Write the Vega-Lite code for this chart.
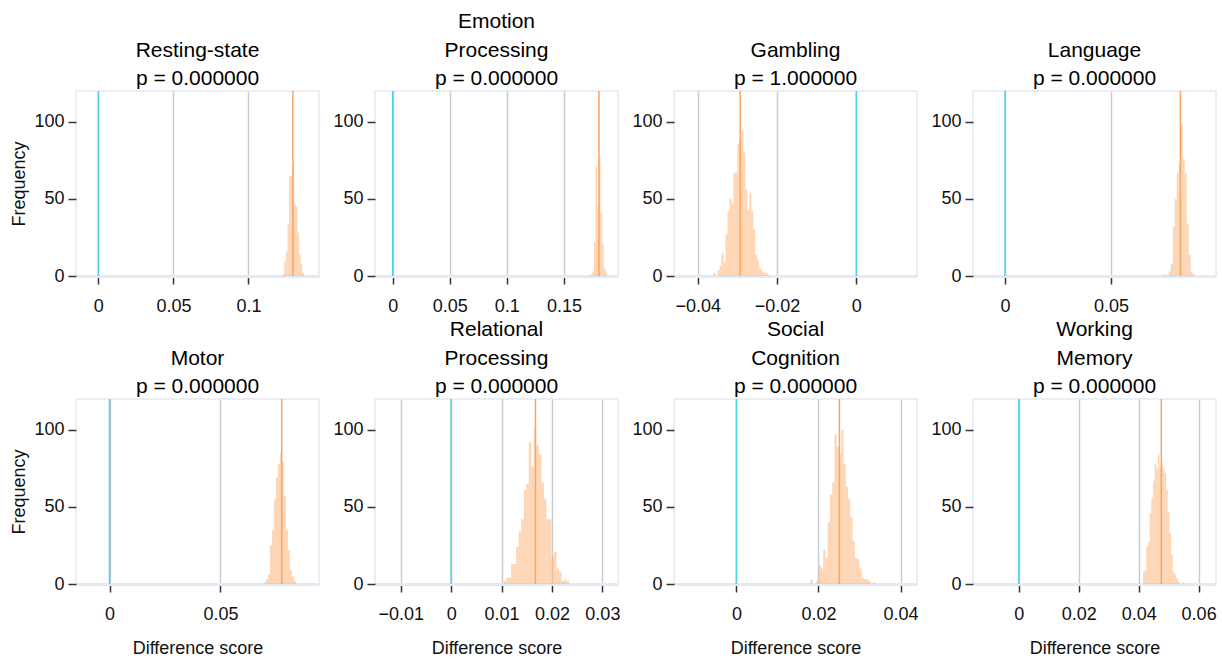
{
"$schema": "https://vega.github.io/schema/vega-lite/v6.json",
"padding": {"left": 10, "top": 10, "right": 5, "bottom": 3},
"background": "white",
"datasets": {
"hist": [
{"task":"Resting-state","x0":0.1227,"x1":0.1238,"n":1},
{"task":"Resting-state","x0":0.1238,"x1":0.1249,"n":9},
{"task":"Resting-state","x0":0.1249,"x1":0.1260,"n":16},
{"task":"Resting-state","x0":0.1260,"x1":0.1271,"n":34},
{"task":"Resting-state","x0":0.1271,"x1":0.1282,"n":65},
{"task":"Resting-state","x0":0.1282,"x1":0.1293,"n":65},
{"task":"Resting-state","x0":0.1293,"x1":0.1304,"n":73},
{"task":"Resting-state","x0":0.1304,"x1":0.1315,"n":47},
{"task":"Resting-state","x0":0.1315,"x1":0.1326,"n":45},
{"task":"Resting-state","x0":0.1326,"x1":0.1337,"n":28},
{"task":"Resting-state","x0":0.1337,"x1":0.1348,"n":14},
{"task":"Resting-state","x0":0.1348,"x1":0.1359,"n":8},
{"task":"Resting-state","x0":0.1359,"x1":0.1370,"n":2},
{"task":"Emotion","x0":0.17330,"x1":0.17476,"n":1},
{"task":"Emotion","x0":0.17476,"x1":0.17622,"n":3},
{"task":"Emotion","x0":0.17622,"x1":0.17768,"n":22},
{"task":"Emotion","x0":0.17768,"x1":0.17914,"n":71},
{"task":"Emotion","x0":0.17914,"x1":0.18060,"n":45},
{"task":"Emotion","x0":0.18060,"x1":0.18206,"n":78},
{"task":"Emotion","x0":0.18206,"x1":0.18352,"n":41},
{"task":"Emotion","x0":0.18352,"x1":0.18498,"n":21},
{"task":"Emotion","x0":0.18498,"x1":0.18644,"n":5},
{"task":"Emotion","x0":0.18644,"x1":0.18790,"n":2},
{"task":"Gambling","x0":-0.0360,"x1":-0.0355,"n":2},
{"task":"Gambling","x0":-0.0350,"x1":-0.0345,"n":4},
{"task":"Gambling","x0":-0.0345,"x1":-0.0340,"n":7},
{"task":"Gambling","x0":-0.0340,"x1":-0.0335,"n":15},
{"task":"Gambling","x0":-0.0335,"x1":-0.0330,"n":9},
{"task":"Gambling","x0":-0.0330,"x1":-0.0325,"n":27},
{"task":"Gambling","x0":-0.0325,"x1":-0.0320,"n":42},
{"task":"Gambling","x0":-0.0320,"x1":-0.0315,"n":50},
{"task":"Gambling","x0":-0.0315,"x1":-0.0310,"n":47},
{"task":"Gambling","x0":-0.0310,"x1":-0.0305,"n":67},
{"task":"Gambling","x0":-0.0305,"x1":-0.0300,"n":67},
{"task":"Gambling","x0":-0.0300,"x1":-0.0295,"n":86},
{"task":"Gambling","x0":-0.0295,"x1":-0.0290,"n":88},
{"task":"Gambling","x0":-0.0290,"x1":-0.0285,"n":94},
{"task":"Gambling","x0":-0.0285,"x1":-0.0280,"n":80},
{"task":"Gambling","x0":-0.0280,"x1":-0.0275,"n":56},
{"task":"Gambling","x0":-0.0275,"x1":-0.0270,"n":43},
{"task":"Gambling","x0":-0.0270,"x1":-0.0265,"n":54},
{"task":"Gambling","x0":-0.0265,"x1":-0.0260,"n":42},
{"task":"Gambling","x0":-0.0260,"x1":-0.0255,"n":30},
{"task":"Gambling","x0":-0.0255,"x1":-0.0250,"n":14},
{"task":"Gambling","x0":-0.0250,"x1":-0.0245,"n":10},
{"task":"Gambling","x0":-0.0245,"x1":-0.0240,"n":5},
{"task":"Gambling","x0":-0.0240,"x1":-0.0235,"n":3},
{"task":"Gambling","x0":-0.0235,"x1":-0.0230,"n":2},
{"task":"Gambling","x0":-0.0230,"x1":-0.0225,"n":2},
{"task":"Gambling","x0":-0.0225,"x1":-0.0220,"n":1},
{"task":"Language","x0":0.07440,"x1":0.07534,"n":1},
{"task":"Language","x0":0.07628,"x1":0.07722,"n":1},
{"task":"Language","x0":0.07722,"x1":0.07816,"n":3},
{"task":"Language","x0":0.07816,"x1":0.07910,"n":8},
{"task":"Language","x0":0.07910,"x1":0.08004,"n":32},
{"task":"Language","x0":0.08004,"x1":0.08098,"n":50},
{"task":"Language","x0":0.08098,"x1":0.08192,"n":67},
{"task":"Language","x0":0.08192,"x1":0.08286,"n":73},
{"task":"Language","x0":0.08286,"x1":0.08380,"n":99},
{"task":"Language","x0":0.08380,"x1":0.08474,"n":76},
{"task":"Language","x0":0.08474,"x1":0.08568,"n":67},
{"task":"Language","x0":0.08568,"x1":0.08662,"n":34},
{"task":"Language","x0":0.08662,"x1":0.08756,"n":14},
{"task":"Language","x0":0.08756,"x1":0.08850,"n":3},
{"task":"Language","x0":0.08850,"x1":0.08944,"n":1},
{"task":"Motor","x0":0.0696,"x1":0.0705,"n":1},
{"task":"Motor","x0":0.0705,"x1":0.0714,"n":3},
{"task":"Motor","x0":0.0714,"x1":0.0723,"n":6},
{"task":"Motor","x0":0.0723,"x1":0.0732,"n":25},
{"task":"Motor","x0":0.0732,"x1":0.0741,"n":35},
{"task":"Motor","x0":0.0741,"x1":0.0750,"n":55},
{"task":"Motor","x0":0.0750,"x1":0.0759,"n":69},
{"task":"Motor","x0":0.0759,"x1":0.0768,"n":78},
{"task":"Motor","x0":0.0768,"x1":0.0777,"n":85},
{"task":"Motor","x0":0.0777,"x1":0.0786,"n":79},
{"task":"Motor","x0":0.0786,"x1":0.0795,"n":57},
{"task":"Motor","x0":0.0795,"x1":0.0804,"n":35},
{"task":"Motor","x0":0.0804,"x1":0.0813,"n":22},
{"task":"Motor","x0":0.0813,"x1":0.0822,"n":9},
{"task":"Motor","x0":0.0822,"x1":0.0831,"n":5},
{"task":"Motor","x0":0.0831,"x1":0.0840,"n":2},
{"task":"Relational","x0":0.0104,"x1":0.0109,"n":2},
{"task":"Relational","x0":0.0109,"x1":0.0114,"n":4},
{"task":"Relational","x0":0.0114,"x1":0.0119,"n":4},
{"task":"Relational","x0":0.0119,"x1":0.0124,"n":13},
{"task":"Relational","x0":0.0124,"x1":0.0129,"n":13},
{"task":"Relational","x0":0.0129,"x1":0.0134,"n":24},
{"task":"Relational","x0":0.0134,"x1":0.0139,"n":34},
{"task":"Relational","x0":0.0139,"x1":0.0144,"n":42},
{"task":"Relational","x0":0.0144,"x1":0.0149,"n":61},
{"task":"Relational","x0":0.0149,"x1":0.0154,"n":65},
{"task":"Relational","x0":0.0154,"x1":0.0159,"n":92},
{"task":"Relational","x0":0.0159,"x1":0.0164,"n":76},
{"task":"Relational","x0":0.0164,"x1":0.0169,"n":101},
{"task":"Relational","x0":0.0169,"x1":0.0174,"n":90},
{"task":"Relational","x0":0.0174,"x1":0.0179,"n":84},
{"task":"Relational","x0":0.0179,"x1":0.0184,"n":66},
{"task":"Relational","x0":0.0184,"x1":0.0189,"n":55},
{"task":"Relational","x0":0.0189,"x1":0.0194,"n":42},
{"task":"Relational","x0":0.0194,"x1":0.0199,"n":42},
{"task":"Relational","x0":0.0199,"x1":0.0204,"n":18},
{"task":"Relational","x0":0.0204,"x1":0.0209,"n":21},
{"task":"Relational","x0":0.0209,"x1":0.0214,"n":10},
{"task":"Relational","x0":0.0214,"x1":0.0219,"n":8},
{"task":"Relational","x0":0.0219,"x1":0.0224,"n":2},
{"task":"Relational","x0":0.0224,"x1":0.0229,"n":3},
{"task":"Relational","x0":0.0229,"x1":0.0234,"n":2},
{"task":"Social","x0":0.01805,"x1":0.0186,"n":3},
{"task":"Social","x0":0.0195,"x1":0.02005,"n":2},
{"task":"Social","x0":0.02005,"x1":0.0206,"n":12},
{"task":"Social","x0":0.0206,"x1":0.02115,"n":10},
{"task":"Social","x0":0.02115,"x1":0.0217,"n":22},
{"task":"Social","x0":0.0217,"x1":0.02225,"n":17},
{"task":"Social","x0":0.02225,"x1":0.0228,"n":40},
{"task":"Social","x0":0.0228,"x1":0.02335,"n":58},
{"task":"Social","x0":0.02335,"x1":0.0239,"n":66},
{"task":"Social","x0":0.0239,"x1":0.02445,"n":97},
{"task":"Social","x0":0.02445,"x1":0.025,"n":89},
{"task":"Social","x0":0.025,"x1":0.02555,"n":84},
{"task":"Social","x0":0.02555,"x1":0.0261,"n":100},
{"task":"Social","x0":0.0261,"x1":0.02665,"n":78},
{"task":"Social","x0":0.02665,"x1":0.0272,"n":63},
{"task":"Social","x0":0.0272,"x1":0.02775,"n":55},
{"task":"Social","x0":0.02775,"x1":0.0283,"n":43},
{"task":"Social","x0":0.0283,"x1":0.02885,"n":28},
{"task":"Social","x0":0.02885,"x1":0.0294,"n":17},
{"task":"Social","x0":0.0294,"x1":0.02995,"n":16},
{"task":"Social","x0":0.02995,"x1":0.0305,"n":10},
{"task":"Social","x0":0.0305,"x1":0.03105,"n":4},
{"task":"Social","x0":0.03105,"x1":0.0316,"n":3},
{"task":"Social","x0":0.0316,"x1":0.03215,"n":3},
{"task":"Social","x0":0.03215,"x1":0.0327,"n":2},
{"task":"Social","x0":0.03325,"x1":0.0338,"n":1},
{"task":"WM","x0":0.0399,"x1":0.04045,"n":2},
{"task":"WM","x0":0.04145,"x1":0.042,"n":8},
{"task":"WM","x0":0.042,"x1":0.04255,"n":9},
{"task":"WM","x0":0.04255,"x1":0.0431,"n":24},
{"task":"WM","x0":0.0431,"x1":0.04365,"n":27},
{"task":"WM","x0":0.04365,"x1":0.0442,"n":46},
{"task":"WM","x0":0.0442,"x1":0.04475,"n":56},
{"task":"WM","x0":0.04475,"x1":0.0453,"n":67},
{"task":"WM","x0":0.0453,"x1":0.04585,"n":78},
{"task":"WM","x0":0.04585,"x1":0.0464,"n":75},
{"task":"WM","x0":0.0464,"x1":0.04695,"n":84},
{"task":"WM","x0":0.04695,"x1":0.0475,"n":76},
{"task":"WM","x0":0.0475,"x1":0.04805,"n":79},
{"task":"WM","x0":0.04805,"x1":0.0486,"n":75},
{"task":"WM","x0":0.0486,"x1":0.04915,"n":72},
{"task":"WM","x0":0.04915,"x1":0.0497,"n":61},
{"task":"WM","x0":0.0497,"x1":0.05025,"n":47},
{"task":"WM","x0":0.05025,"x1":0.0508,"n":33},
{"task":"WM","x0":0.0508,"x1":0.05135,"n":19},
{"task":"WM","x0":0.05135,"x1":0.0519,"n":8},
{"task":"WM","x0":0.0519,"x1":0.05245,"n":6},
{"task":"WM","x0":0.05245,"x1":0.053,"n":4},
{"task":"WM","x0":0.053,"x1":0.05355,"n":2},
{"task":"WM","x0":0.05465,"x1":0.0552,"n":1}
],
"stats": [
{"task":"Resting-state","mean":0.1296,"zero":0},
{"task":"Emotion","mean":0.1807,"zero":0},
{"task":"Gambling","mean":-0.0293,"zero":0},
{"task":"Language","mean":0.0827,"zero":0},
{"task":"Motor","mean":0.0776,"zero":0},
{"task":"Relational","mean":0.01673,"zero":0},
{"task":"Social","mean":0.0251,"zero":0},
{"task":"WM","mean":0.04755,"zero":0}
]
},
"columns": 4,
"bounds": "flush",
"spacing": {"row": 123, "column": 56},
"concat": [
{"title": {"text": ["Resting-state", "p = 0.000000"]}, "width": 243, "height": 185,
 "layer": [
  {"data": {"name": "hist"}, "transform": [{"filter": "datum.task === 'Resting-state'"}], "mark": {"type": "rect", "color": "#fdae6b", "opacity": 0.5},
   "encoding": {"x": {"field": "x0", "type": "quantitative", "scale": {"domain": [-0.0149, 0.147], "nice": false, "zero": false}, "axis": {"values": [0, 0.05, 0.1], "format": "~g", "title": null}},
    "x2": {"field": "x1"},
    "y": {"field": "n", "type": "quantitative", "scale": {"domain": [0, 120], "nice": false}, "axis": {"values": [0, 50, 100], "title": "Frequency"}}}},
  {"data": {"name": "stats"}, "transform": [{"filter": "datum.task === 'Resting-state'"}], "mark": {"type": "rule", "color": "#4dd0e8", "strokeWidth": 1.5}, "encoding": {"x": {"field": "zero", "type": "quantitative"}}},
  {"data": {"name": "stats"}, "transform": [{"filter": "datum.task === 'Resting-state'"}], "mark": {"type": "rule", "color": "#fca462", "strokeWidth": 1.5}, "encoding": {"x": {"field": "mean", "type": "quantitative"}}}
 ]},
{"title": {"text": ["Emotion", "Processing", "p = 0.000000"]}, "width": 243, "height": 185,
 "layer": [
  {"data": {"name": "hist"}, "transform": [{"filter": "datum.task === 'Emotion'"}], "mark": {"type": "rect", "color": "#fdae6b", "opacity": 0.5},
   "encoding": {"x": {"field": "x0", "type": "quantitative", "scale": {"domain": [-0.0155, 0.1974], "nice": false, "zero": false}, "axis": {"values": [0, 0.05, 0.1, 0.15], "format": "~g", "title": null}},
    "x2": {"field": "x1"},
    "y": {"field": "n", "type": "quantitative", "scale": {"domain": [0, 120], "nice": false}, "axis": {"values": [0, 50, 100], "title": null}}}},
  {"data": {"name": "stats"}, "transform": [{"filter": "datum.task === 'Emotion'"}], "mark": {"type": "rule", "color": "#4dd0e8", "strokeWidth": 1.5}, "encoding": {"x": {"field": "zero", "type": "quantitative"}}},
  {"data": {"name": "stats"}, "transform": [{"filter": "datum.task === 'Emotion'"}], "mark": {"type": "rule", "color": "#fca462", "strokeWidth": 1.5}, "encoding": {"x": {"field": "mean", "type": "quantitative"}}}
 ]},
{"title": {"text": ["Gambling", "p = 1.000000"]}, "width": 243, "height": 185,
 "layer": [
  {"data": {"name": "hist"}, "transform": [{"filter": "datum.task === 'Gambling'"}], "mark": {"type": "rect", "color": "#fdae6b", "opacity": 0.5},
   "encoding": {"x": {"field": "x0", "type": "quantitative", "scale": {"domain": [-0.046, 0.0153], "nice": false, "zero": false}, "axis": {"values": [-0.04, -0.02, 0], "format": "~g", "title": null}},
    "x2": {"field": "x1"},
    "y": {"field": "n", "type": "quantitative", "scale": {"domain": [0, 120], "nice": false}, "axis": {"values": [0, 50, 100], "title": null}}}},
  {"data": {"name": "stats"}, "transform": [{"filter": "datum.task === 'Gambling'"}], "mark": {"type": "rule", "color": "#4dd0e8", "strokeWidth": 1.5}, "encoding": {"x": {"field": "zero", "type": "quantitative"}}},
  {"data": {"name": "stats"}, "transform": [{"filter": "datum.task === 'Gambling'"}], "mark": {"type": "rule", "color": "#fca462", "strokeWidth": 1.5}, "encoding": {"x": {"field": "mean", "type": "quantitative"}}}
 ]},
{"title": {"text": ["Language", "p = 0.000000"]}, "width": 243, "height": 185,
 "layer": [
  {"data": {"name": "hist"}, "transform": [{"filter": "datum.task === 'Language'"}], "mark": {"type": "rect", "color": "#fdae6b", "opacity": 0.5},
   "encoding": {"x": {"field": "x0", "type": "quantitative", "scale": {"domain": [-0.0151, 0.0995], "nice": false, "zero": false}, "axis": {"values": [0, 0.05], "format": "~g", "title": null}},
    "x2": {"field": "x1"},
    "y": {"field": "n", "type": "quantitative", "scale": {"domain": [0, 120], "nice": false}, "axis": {"values": [0, 50, 100], "title": null}}}},
  {"data": {"name": "stats"}, "transform": [{"filter": "datum.task === 'Language'"}], "mark": {"type": "rule", "color": "#4dd0e8", "strokeWidth": 1.5}, "encoding": {"x": {"field": "zero", "type": "quantitative"}}},
  {"data": {"name": "stats"}, "transform": [{"filter": "datum.task === 'Language'"}], "mark": {"type": "rule", "color": "#fca462", "strokeWidth": 1.5}, "encoding": {"x": {"field": "mean", "type": "quantitative"}}}
 ]},
{"title": {"text": ["Motor", "p = 0.000000"]}, "width": 243, "height": 185,
 "layer": [
  {"data": {"name": "hist"}, "transform": [{"filter": "datum.task === 'Motor'"}], "mark": {"type": "rect", "color": "#fdae6b", "opacity": 0.5},
   "encoding": {"x": {"field": "x0", "type": "quantitative", "scale": {"domain": [-0.0151, 0.0944], "nice": false, "zero": false}, "axis": {"values": [0, 0.05], "format": "~g", "title": "Difference score"}},
    "x2": {"field": "x1"},
    "y": {"field": "n", "type": "quantitative", "scale": {"domain": [0, 120], "nice": false}, "axis": {"values": [0, 50, 100], "title": "Frequency"}}}},
  {"data": {"name": "stats"}, "transform": [{"filter": "datum.task === 'Motor'"}], "mark": {"type": "rule", "color": "#4dd0e8", "strokeWidth": 1.5}, "encoding": {"x": {"field": "zero", "type": "quantitative"}}},
  {"data": {"name": "stats"}, "transform": [{"filter": "datum.task === 'Motor'"}], "mark": {"type": "rule", "color": "#fca462", "strokeWidth": 1.5}, "encoding": {"x": {"field": "mean", "type": "quantitative"}}}
 ]},
{"title": {"text": ["Relational", "Processing", "p = 0.000000"]}, "width": 243, "height": 185,
 "layer": [
  {"data": {"name": "hist"}, "transform": [{"filter": "datum.task === 'Relational'"}], "mark": {"type": "rect", "color": "#fdae6b", "opacity": 0.5},
   "encoding": {"x": {"field": "x0", "type": "quantitative", "scale": {"domain": [-0.0151, 0.0331], "nice": false, "zero": false}, "axis": {"values": [-0.01, 0, 0.01, 0.02, 0.03], "format": "~g", "title": "Difference score"}},
    "x2": {"field": "x1"},
    "y": {"field": "n", "type": "quantitative", "scale": {"domain": [0, 120], "nice": false}, "axis": {"values": [0, 50, 100], "title": null}}}},
  {"data": {"name": "stats"}, "transform": [{"filter": "datum.task === 'Relational'"}], "mark": {"type": "rule", "color": "#4dd0e8", "strokeWidth": 1.5}, "encoding": {"x": {"field": "zero", "type": "quantitative"}}},
  {"data": {"name": "stats"}, "transform": [{"filter": "datum.task === 'Relational'"}], "mark": {"type": "rule", "color": "#fca462", "strokeWidth": 1.5}, "encoding": {"x": {"field": "mean", "type": "quantitative"}}}
 ]},
{"title": {"text": ["Social", "Cognition", "p = 0.000000"]}, "width": 243, "height": 185,
 "layer": [
  {"data": {"name": "hist"}, "transform": [{"filter": "datum.task === 'Social'"}], "mark": {"type": "rect", "color": "#fdae6b", "opacity": 0.5},
   "encoding": {"x": {"field": "x0", "type": "quantitative", "scale": {"domain": [-0.0152, 0.044], "nice": false, "zero": false}, "axis": {"values": [0, 0.02, 0.04], "format": "~g", "title": "Difference score"}},
    "x2": {"field": "x1"},
    "y": {"field": "n", "type": "quantitative", "scale": {"domain": [0, 120], "nice": false}, "axis": {"values": [0, 50, 100], "title": null}}}},
  {"data": {"name": "stats"}, "transform": [{"filter": "datum.task === 'Social'"}], "mark": {"type": "rule", "color": "#4dd0e8", "strokeWidth": 1.5}, "encoding": {"x": {"field": "zero", "type": "quantitative"}}},
  {"data": {"name": "stats"}, "transform": [{"filter": "datum.task === 'Social'"}], "mark": {"type": "rule", "color": "#fca462", "strokeWidth": 1.5}, "encoding": {"x": {"field": "mean", "type": "quantitative"}}}
 ]},
{"title": {"text": ["Working", "Memory", "p = 0.000000"]}, "width": 243, "height": 185,
 "layer": [
  {"data": {"name": "hist"}, "transform": [{"filter": "datum.task === 'WM'"}], "mark": {"type": "rect", "color": "#fdae6b", "opacity": 0.5},
   "encoding": {"x": {"field": "x0", "type": "quantitative", "scale": {"domain": [-0.0153, 0.0658], "nice": false, "zero": false}, "axis": {"values": [0, 0.02, 0.04, 0.06], "format": "~g", "title": "Difference score"}},
    "x2": {"field": "x1"},
    "y": {"field": "n", "type": "quantitative", "scale": {"domain": [0, 120], "nice": false}, "axis": {"values": [0, 50, 100], "title": null}}}},
  {"data": {"name": "stats"}, "transform": [{"filter": "datum.task === 'WM'"}], "mark": {"type": "rule", "color": "#4dd0e8", "strokeWidth": 1.5}, "encoding": {"x": {"field": "zero", "type": "quantitative"}}},
  {"data": {"name": "stats"}, "transform": [{"filter": "datum.task === 'WM'"}], "mark": {"type": "rule", "color": "#fca462", "strokeWidth": 1.5}, "encoding": {"x": {"field": "mean", "type": "quantitative"}}}
 ]}
],
"config": {
 "font": "Liberation Sans",
 "view": {"stroke": "#e3eaf5", "strokeWidth": 1.5},
 "title": {"fontSize": 21, "fontWeight": "normal", "color": "#000000", "lineHeight": 28.5, "offset": 1, "frame": "group", "anchor": "middle"},
 "axis": {"labelFontSize": 18, "labelColor": "#111111", "titleFontSize": 18, "titleFontWeight": "normal", "titleColor": "#111111", "tickColor": "#333333", "tickWidth": 1.5, "tickSize": 8, "labelPadding": 4, "labelFlush": false, "labelOverlap": false},
 "axisX": {"grid": true, "gridColor": "#c8ccd4", "gridWidth": 1.5, "domainColor": "#e3eaf5", "domainWidth": 3, "labelPadding": 13, "titlePadding": 16, "titleFontSize": 18},
 "axisY": {"grid": false, "domain": false, "titlePadding": 5}
}
}
